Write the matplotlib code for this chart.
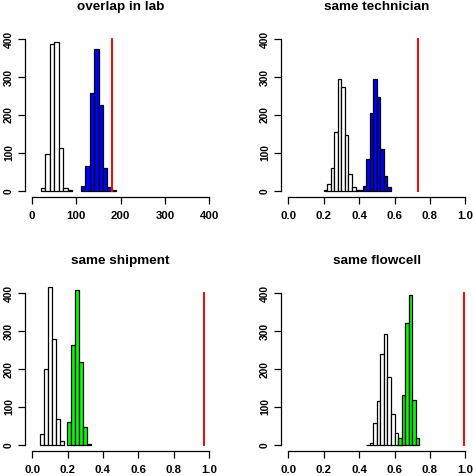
import matplotlib
matplotlib.use("Agg")
import matplotlib.pyplot as plt

plt.rcParams['font.family'] = ['Liberation Sans', 'DejaVu Sans']

# overlap in lab
lab_null_start, lab_null_width = 20, 10
lab_null_counts = [6, 97, 388, 393, 112, 7, 2]
lab_obs_start, lab_obs_width = 110, 10
lab_obs_counts = [13, 65, 259, 374, 226, 59, 11, 2]
lab_observed = 180

# same technician
tech_null_start, tech_null_width = 0.20, 0.02
tech_null_counts = [1, 17, 60, 155, 294, 273, 147, 43, 10, 2, 1]
tech_obs_start, tech_obs_width = 0.42, 0.02
tech_obs_counts = [12, 85, 206, 294, 248, 109, 38, 10]
tech_observed = 0.733

# same shipment
ship_null_start, ship_null_width = 0.045, 0.0225
ship_null_counts = [29, 201, 416, 280, 68, 11]
ship_obs_start, ship_obs_width = 0.196, 0.0225
ship_obs_counts = [60, 263, 409, 220, 47, 3]
ship_observed = 0.968

# same flowcell
flow_null_start, flow_null_width = 0.44, 0.02
flow_null_counts = [1, 6, 57, 116, 239, 294, 178, 82, 31, 10]
flow_obs_start, flow_obs_width = 0.62, 0.02
flow_obs_counts = [18, 133, 321, 396, 118, 17]
flow_observed = 0.994

titles = ["overlap in lab", "same technician", "same shipment", "same flowcell"]
x_ticks_lab = [0, 100, 200, 300, 400]
x_ticks_frac = [0.0, 0.2, 0.4, 0.6, 0.8, 1.0]
x_labels_frac = ["0.0", "0.2", "0.4", "0.6", "0.8", "1.0"]
y_ticks = [0, 100, 200, 300, 400]

W, H = 473, 476
fig = plt.figure(figsize=(W / 100, H / 100), dpi=100)


def px_axes(left, right, top, bottom):
    return fig.add_axes([left / W, 1 - bottom / H, (right - left) / W, (bottom - top) / H])


def edges(start, width, n):
    return [start + i * width for i in range(n)]


panels = [
    (px_axes(25, 216.4, 33.2, 196.8), 400,
     (lab_null_start, lab_null_width, lab_null_counts),
     (lab_obs_start, lab_obs_width, lab_obs_counts), lab_observed, "blue"),
    (px_axes(281.2, 472.4, 33.2, 196.8), 1.0,
     (tech_null_start, tech_null_width, tech_null_counts),
     (tech_obs_start, tech_obs_width, tech_obs_counts), tech_observed, "blue"),
    (px_axes(25, 216.4, 287.3, 451), 1.0,
     (ship_null_start, ship_null_width, ship_null_counts),
     (ship_obs_start, ship_obs_width, ship_obs_counts), ship_observed, "#00ff00"),
    (px_axes(281.2, 472.4, 287.3, 451), 1.0,
     (flow_null_start, flow_null_width, flow_null_counts),
     (flow_obs_start, flow_obs_width, flow_obs_counts), flow_observed, "#00ff00"),
]

for (ax, xmax, null, obs, observed, col), title in zip(panels, titles):
    s, w, c = null
    ax.bar(edges(s, w, len(c)), c, width=w, align='edge', color='white',
           edgecolor='black', linewidth=0.9)
    s, w, c = obs
    ax.bar(edges(s, w, len(c)), c, width=w, align='edge', color=col,
           edgecolor='black', linewidth=0.9)
    ax.plot([observed, observed], [0, 400], color='red', lw=1.4)

    pad = 0.04 * xmax
    ax.set_xlim(-pad, xmax + pad)
    ax.set_ylim(-16, 416)
    for side in ['top', 'right']:
        ax.spines[side].set_visible(False)
    ax.spines['left'].set_bounds(0, 400)
    ax.spines['bottom'].set_bounds(0, xmax)
    ax.spines['left'].set_linewidth(0.9)
    ax.spines['bottom'].set_linewidth(0.9)

    if xmax == 400:
        ax.set_xticks(x_ticks_lab)
    else:
        ax.set_xticks(x_ticks_frac)
        ax.set_xticklabels(x_labels_frac)
    ax.set_yticks(y_ticks)
    ax.tick_params(direction='out', length=5, width=0.9)
    ax.tick_params(axis='x', pad=5, labelsize=8.2)
    ax.tick_params(axis='y', pad=3, labelsize=7.4)
    plt.setp(ax.get_xticklabels(), fontweight='bold')
    plt.setp(ax.get_yticklabels(), rotation=90, va='center', fontweight='bold')
    ax.set_title(title, fontweight='bold', fontsize=9.7, pad=17)

fig.savefig("out.png", dpi=100)
